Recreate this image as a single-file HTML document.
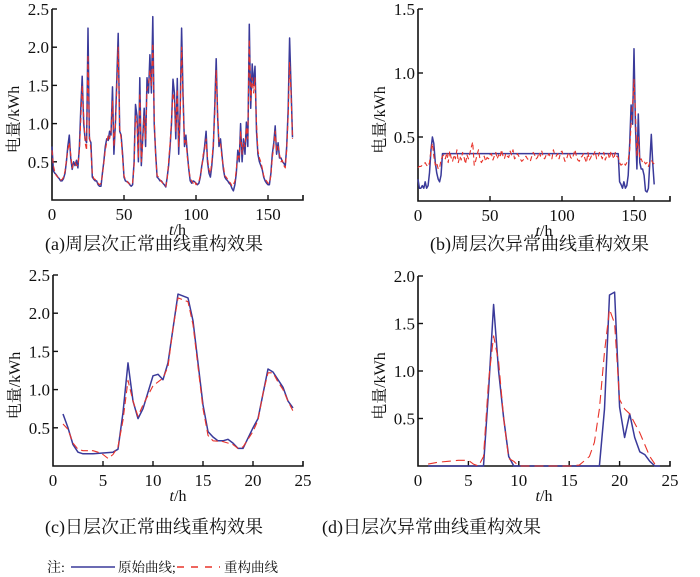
<!DOCTYPE html>
<html><head><meta charset="utf-8"><style>
body{margin:0;background:#fff;width:700px;height:577px;overflow:hidden}
svg{display:block}
text{font-family:"Liberation Serif","Noto Serif CJK SC",serif;fill:#111}
.cj{font-family:"Liberation Serif","Noto Serif CJK SC","Noto Sans CJK SC",serif}
</style></head><body>
<svg id="fig" width="700" height="577" xmlns="http://www.w3.org/2000/svg">
<text class="cj" x="45" y="250" font-size="18">(a)周层次正常曲线重构效果</text>
<text class="cj" x="430" y="250" font-size="18">(b)周层次异常曲线重构效果</text>
<text class="cj" x="45" y="533" font-size="18">(c)日层次正常曲线重构效果</text>
<text class="cj" x="322" y="533" font-size="18">(d)日层次异常曲线重构效果</text>
<g>
<text class="cj" x="47" y="572" font-size="14">注:</text>
<line x1="71" y1="567" x2="115" y2="567" stroke="#3a3a9a" stroke-width="1.6"/>
<text class="cj" x="118" y="572" font-size="13.5">原始曲线;</text>
<line x1="177" y1="567" x2="220" y2="567" stroke="#e8332a" stroke-width="1.4" stroke-dasharray="7,7"/>
<text class="cj" x="224" y="572" font-size="13.5">重构曲线</text>
</g>
</svg>
<script>
// Panel (a) weekly normal, hourly values t=0..167
const aBlue=[0.7,0.38,0.35,0.33,0.3,0.28,0.25,0.25,0.28,0.35,0.5,0.7,0.85,0.55,0.4,0.5,0.45,0.52,0.42,0.7,1.2,1.62,1.0,0.8,
0.75,2.25,0.8,0.75,0.3,0.27,0.25,0.25,0.2,0.18,0.18,0.35,0.5,0.7,0.8,0.78,0.9,0.85,1.48,0.6,1.0,1.58,2.18,0.9,
0.85,0.6,0.3,0.25,0.24,0.23,0.2,0.18,0.2,0.5,1.25,1.1,0.5,1.6,0.45,0.8,1.2,0.7,1.6,1.4,1.9,1.4,2.4,1.0,
0.6,0.3,0.28,0.25,0.25,0.22,0.2,0.17,0.3,0.45,0.7,1.0,1.58,1.4,0.8,1.59,0.6,1.2,2.25,1.4,0.7,0.85,0.6,0.4,
0.25,0.22,0.25,0.24,0.22,0.2,0.22,0.3,0.45,0.55,0.7,0.9,0.5,0.35,0.3,0.45,0.7,1.2,1.85,1.1,0.7,0.8,0.6,0.4,
0.3,0.27,0.25,0.22,0.2,0.15,0.12,0.2,0.35,0.65,0.5,1.0,0.5,0.8,0.6,1.02,0.7,2.3,1.2,1.78,1.5,1.75,0.9,0.6,
0.5,0.45,0.4,0.3,0.25,0.22,0.2,0.2,0.35,0.6,0.75,0.97,0.6,0.75,0.55,0.55,0.5,0.48,0.45,0.7,1.2,2.12,1.5,0.82];
const aRed=[0.65,0.45,0.36,0.32,0.3,0.27,0.26,0.27,0.3,0.38,0.52,0.65,0.75,0.6,0.42,0.48,0.5,0.45,0.45,0.65,1.05,1.5,1.1,0.75,
0.65,1.9,0.85,0.65,0.35,0.28,0.27,0.24,0.22,0.2,0.22,0.32,0.48,0.65,0.75,0.85,0.8,0.9,1.3,0.7,0.95,1.45,2.0,0.95,
0.8,0.55,0.32,0.27,0.25,0.22,0.21,0.2,0.22,0.45,1.1,1.0,0.55,1.4,0.5,0.75,1.1,0.8,1.45,1.5,1.7,1.5,2.05,1.1,
0.55,0.32,0.3,0.27,0.24,0.22,0.2,0.18,0.28,0.5,0.75,1.05,1.4,1.3,0.9,1.45,0.7,1.1,2.0,1.3,0.75,0.8,0.55,0.42,
0.28,0.25,0.22,0.25,0.2,0.22,0.24,0.32,0.42,0.6,0.65,0.8,0.55,0.4,0.35,0.5,0.75,1.1,1.7,1.15,0.75,0.75,0.55,0.45,
0.32,0.3,0.27,0.24,0.22,0.18,0.2,0.25,0.4,0.6,0.55,0.9,0.6,0.75,0.7,0.95,0.8,2.1,1.3,1.6,1.4,1.6,1.0,0.65,
0.55,0.5,0.42,0.32,0.27,0.25,0.22,0.22,0.32,0.55,0.7,0.9,0.65,0.7,0.6,0.5,0.52,0.45,0.42,0.65,1.1,1.8,1.4,0.8];
// Panel (b) weekly abnormal
const bBlue=[0.17,0.1,0.1,0.12,0.1,0.15,0.1,0.12,0.22,0.4,0.5,0.45,0.3,0.22,0.17,0.15,0.2,0.37,
0.37,0.37,0.37,0.37,0.37,0.37,0.37,0.37,0.37,0.37,0.37,0.37,0.37,0.37,0.37,0.37,0.37,0.37,0.37,0.37,0.37,0.37,
0.37,0.37,0.37,0.37,0.37,0.37,0.37,0.37,0.37,0.37,0.37,0.37,0.37,0.37,0.37,0.37,0.37,0.37,0.37,0.37,0.37,0.37,
0.37,0.37,0.37,0.37,0.37,0.37,0.37,0.37,0.37,0.37,0.37,0.37,0.37,0.37,0.37,0.37,0.37,0.37,0.37,0.37,0.37,0.37,
0.37,0.37,0.37,0.37,0.37,0.37,0.37,0.37,0.37,0.37,0.37,0.37,0.37,0.37,0.37,0.37,0.37,0.37,0.37,0.37,0.37,0.37,
0.37,0.37,0.37,0.37,0.37,0.37,0.37,0.37,0.37,0.37,0.37,0.37,0.37,0.37,0.37,0.37,0.37,0.37,0.37,0.37,0.37,0.37,
0.37,0.37,0.37,0.37,0.37,0.37,0.37,0.37,0.37,0.37,0.37,0.37,
0.15,0.13,0.1,0.15,0.1,0.12,0.2,0.45,0.75,0.6,1.19,0.6,0.25,0.68,0.3,0.25,0.25,0.2,0.08,0.07,0.1,0.3,0.52,0.3,0.13];
const bRed=[0.26,0.27,0.27,0.28,0.29,0.3,0.28,0.27,0.3,0.4,0.45,0.35,0.28,0.3,0.25,0.26,0.32,0.35,
0.36,0.33,0.38,0.3,0.39,0.34,0.31,0.36,0.33,0.4,0.3,0.35,0.32,0.38,0.34,0.29,0.36,0.33,0.37,0.42,0.46,0.28,
0.31,0.36,0.4,0.33,0.3,0.32,0.35,0.31,0.34,0.33,0.36,0.37,0.32,0.35,0.38,0.33,0.36,0.34,0.4,0.35,0.33,0.37,
0.35,0.34,0.39,0.36,0.4,0.33,0.34,0.37,0.35,0.33,0.31,0.32,0.34,0.35,0.33,0.32,0.31,0.35,0.38,0.36,0.33,0.34,
0.38,0.35,0.39,0.34,0.33,0.36,0.35,0.37,0.34,0.33,0.4,0.36,0.35,0.37,0.33,0.38,0.39,0.35,0.31,0.32,0.36,0.38,
0.34,0.33,0.36,0.4,0.35,0.32,0.31,0.34,0.35,0.37,0.33,0.3,0.38,0.32,0.34,0.37,0.36,0.39,0.33,0.34,0.38,0.36,
0.33,0.38,0.32,0.35,0.37,0.33,0.39,0.36,0.33,0.38,0.35,0.34,
0.3,0.28,0.29,0.3,0.28,0.3,0.32,0.4,0.6,0.75,0.95,0.7,0.35,0.5,0.32,0.33,0.3,0.31,0.29,0.3,0.27,0.3,0.32,0.3,0.29];
// Panel (c) daily normal
const cTB=[1,1.5,2,2.5,3,4,5,6,6.5,7,7.5,8,8.5,9,10,10.5,11,11.5,12.5,13.5,14,15,15.5,16,16.5,17,17.5,18,18.5,19,20,20.5,21.5,22,23,23.5,24];
const cBlue=[0.68,0.5,0.28,0.18,0.16,0.16,0.17,0.18,0.22,0.7,1.35,0.85,0.62,0.75,1.18,1.2,1.13,1.35,2.25,2.2,1.9,0.8,0.45,0.38,0.33,0.33,0.35,0.3,0.23,0.23,0.5,0.62,1.27,1.23,1.03,0.85,0.76];
const cTR=[1,1.5,2,2.5,3,4,4.5,5,5.5,6,6.5,7,7.5,8,8.5,9,10,11,11.5,12,12.5,13.5,14,15,15.5,16,17,18,18.5,19,19.5,20,20.5,21,21.5,22,22.5,23,23.5,24];
const cRed=[0.55,0.48,0.3,0.22,0.2,0.2,0.18,0.15,0.1,0.15,0.25,0.6,1.12,0.85,0.65,0.8,1.05,1.15,1.3,1.8,2.2,2.15,1.85,0.75,0.4,0.33,0.32,0.28,0.23,0.25,0.35,0.45,0.6,0.95,1.22,1.22,1.1,1.0,0.85,0.72];
// Panel (d) daily abnormal
const dTB=[1,6.5,7,7.5,8,8.5,9,9.5,18,18.5,19,19.5,20,20.5,21,21.5,22,22.5,23,23.5,24];
const dBlue=[0,0,0.8,1.7,1.0,0.5,0.1,0,0,0.6,1.8,1.83,0.62,0.3,0.55,0.3,0.15,0.12,0.05,0,0];
const dTR=[1,2,3,4,5,5.5,6,6.5,7,7.5,8,8.5,9,9.5,10,15,16,17,17.5,18,18.5,19,19.5,20,20.5,21,22,23,23.5];
const dRed=[0.02,0.04,0.05,0.06,0.06,0.02,0,0.1,0.9,1.37,1.1,0.5,0.08,0.05,0,0,0.01,0.1,0.25,0.6,1.2,1.65,1.5,0.7,0.6,0.55,0.35,0.1,0.02];
const weekTicks=[0,50,100,150];
const dayTicks=[0,5,10,15,20,25];
const aYTicks=[0.5,1.0,1.5,2.0,2.5];
const bYTicks=[0.5,1.0,1.5];
const cYTicks=[0.5,1.0,1.5,2.0,2.5];
const dYTicks=[0.5,1.0,1.5,2.0];

const NS='http://www.w3.org/2000/svg';
const svg=document.getElementById('fig');
function mk(tag,attrs,parent){const e=document.createElementNS(NS,tag);for(const k in attrs)e.setAttribute(k,attrs[k]);(parent||svg).appendChild(e);return e;}
function panel(id,P,xt,yt,series){
  const g=mk('g',{});
  
  
  const sx=v=>P.x0+(v-P.xmin)/(P.xmax-P.xmin)*(P.x1-P.x0);
  const sy=v=>P.y0-(v-P.ymin)/(P.ymax-P.ymin)*(P.y0-P.y1);
  const ax=mk('path',{d:`M${P.x0},${P.y1}V${P.y0}H${P.x1}V${P.y0-5}`,fill:'none',stroke:'#111','stroke-width':1.6},g);
  
  
  xt.forEach(v=>{
    const X=sx(v);
    if(v>P.xmin&&X<P.x1-1){const t=mk('line',{x1:X,x2:X,y1:P.y0,y2:P.y0-5,stroke:'#111','stroke-width':1.4},g);
      
      }
    const l=mk('text',{x:X,y:P.y0+20,'font-size':17,'text-anchor':'middle'},g);l.textContent=v;
    
    
  });
  yt.forEach(v=>{
    const Y=sy(v);
    const t=mk('line',{x1:P.x0,x2:P.x0+5,y1:Y,y2:Y,stroke:'#111','stroke-width':1.4},g);
    
    
    const l=mk('text',{x:P.x0-3,y:Y+6,'font-size':17,'text-anchor':'end'},g);l.textContent=v.toFixed(1);
    
    
  });
  const xl=mk('text',{x:(P.x0+P.x1)/2,y:P.y0+35,'font-size':16,'text-anchor':'middle'},g);
  xl.innerHTML='<tspan font-style="italic">t</tspan>/h';
  
  
  const cy=(P.y0+P.y1)/2+15;
  const yl=mk('text',{x:P.x0-33,y:cy,'font-size':16,'text-anchor':'middle',transform:`rotate(-90 ${P.x0-33} ${cy})`,class:'cj'},g);
  yl.textContent='电量/kWh';
  
  
  series.forEach(s=>{
    const d=s.v.map((v,i)=>(i?'L':'M')+sx(s.t?s.t[i]:i).toFixed(1)+','+sy(v).toFixed(1)).join('');
    const p=mk('path',{d,fill:'none',stroke:s.c,'stroke-width':s.w,'stroke-dasharray':s.dash||'none','stroke-linejoin':'round'},g);
    
    
  });
}
panel('a',{x0:52,x1:303,y0:200,y1:9,xmin:0,xmax:174.3,ymin:0,ymax:2.5},weekTicks,aYTicks,[
 {v:aBlue,c:'#3a3a9a',w:1.5,name:'original-curve'},{v:aRed,c:'#e8332a',w:1.1,dash:'5,3',name:'reconstructed-curve'}]);
panel('b',{x0:418,x1:670,y0:201,y1:9,xmin:0,xmax:175,ymin:0,ymax:1.5},weekTicks,bYTicks,[
 {v:bBlue,c:'#3a3a9a',w:1.5,name:'original-curve'},{v:bRed,c:'#e8332a',w:1.1,dash:'5,3',name:'reconstructed-curve'}]);
panel('c',{x0:53,x1:303,y0:466,y1:275,xmin:0,xmax:25,ymin:0,ymax:2.5},dayTicks,cYTicks,[
 {t:cTB,v:cBlue,c:'#3a3a9a',w:1.5,name:'original-curve'},{t:cTR,v:cRed,c:'#e8332a',w:1.1,dash:'7,4',name:'reconstructed-curve'}]);
panel('d',{x0:418,x1:670,y0:466,y1:276,xmin:0,xmax:25,ymin:0,ymax:2.0},dayTicks,dYTicks,[
 {t:dTB,v:dBlue,c:'#3a3a9a',w:1.5,name:'original-curve'},{t:dTR,v:dRed,c:'#e8332a',w:1.1,dash:'9,5',name:'reconstructed-curve'}]);
</script>
</body></html>
